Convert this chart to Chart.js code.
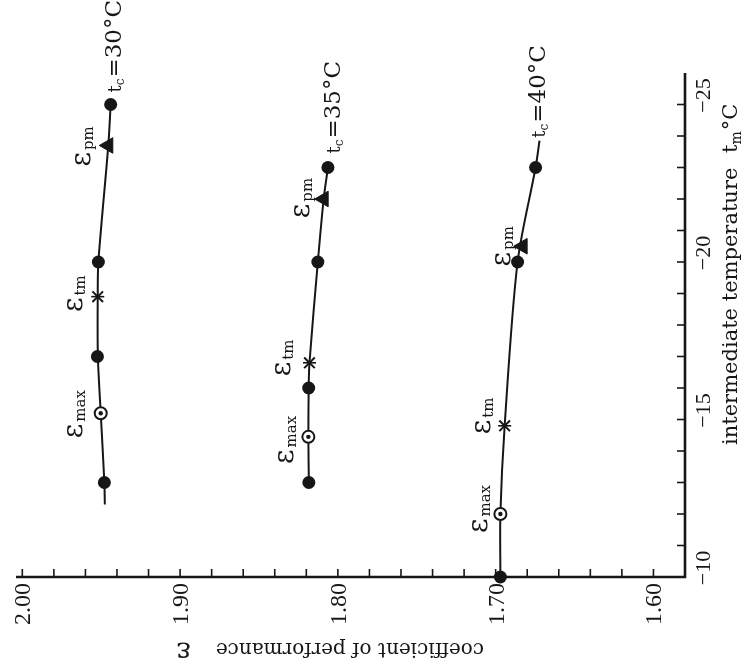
<!DOCTYPE html>
<html><head><meta charset="utf-8">
<script src="https://cdn.jsdelivr.net/npm/chart.js@4.4.1/dist/chart.umd.min.js"></script>
<style>html,body{margin:0;padding:0;background:#fff;}canvas{display:block;}</style>
</head><body>
<canvas id="c" width="744" height="666"></canvas>
<script>
// ---- data (x = coefficient of performance ε, y = intermediate temperature tm °C) ----
const seriesTc = ['30', '35', '40'];

const line30Cop = [1.9477, 1.948, 1.9503, 1.9521, 1.9522, 1.9518, 1.9455, 1.944];
const line30Tm  = [-12.3, -13, -15.2, -17, -18.9, -20, -23.7, -25];
const line35Cop = [1.8184, 1.8187, 1.8185, 1.8180, 1.8127, 1.8090, 1.8063];
const line35Tm  = [-13, -14.45, -16, -16.8, -20, -22, -23];
const line40Cop = [1.697, 1.697, 1.6943, 1.6861, 1.6747, 1.6722];
const line40Tm  = [-10, -12, -14.8, -20, -23, -23.85];

const dots30Cop = [1.948, 1.9524, 1.9518, 1.944];
const dots30Tm  = [-13, -17, -20, -25];
const dots35Cop = [1.8184, 1.8185, 1.8127, 1.8063];
const dots35Tm  = [-13, -16, -20, -23];
const dots40Cop = [1.697, 1.6861, 1.6747];
const dots40Tm  = [-10, -20, -23];

const emaxCop = [1.9503, 1.8187, 1.697];
const emaxTm  = [-15.2, -14.45, -12];
const etmCop  = [1.9522, 1.8180, 1.6943];
const etmTm   = [-18.9, -16.8, -14.8];
const epmCop  = [1.9455, 1.8090, 1.6829];
const epmTm   = [-23.7, -22, -20.5];

const copTickValues = [2.0, 1.9, 1.8, 1.7, 1.6];
const copTickLabels = ['2.00', '1.90', '1.80', '1.70', '1.60'];
const tmTickValues  = [-10, -15, -20, -25];
const tmTickLabels  = ['\u221210', '\u221215', '\u221220', '\u221225'];

// ---- styling / label placement ----
const INK = '#161616';
const SERIF = '"DejaVu Serif", serif';
const TIMES = '"Liberation Serif", serif';
const epsOffsets = {
  max: [[-19, 1], [-15, 3], [-13, -5]],
  tm:  [[-16, -3], [-19, -5], [-15, -10]],
  pm:  [[-18, 1], [-15, -1], [-13, 0]]
};
const tcOffsets = [[10, -12], [12, -14], [5, -3]];

const pts = (xs, ys) => xs.map((x, i) => ({x: x, y: ys[i]}));

function lineDs(cop, tm) {
  return {data: pts(cop, tm), showLine: true, borderColor: INK, borderWidth: 2,
          tension: 0.3, pointRadius: 0, order: 10, clip: false};
}
function markDs(cop, tm, o) {
  return Object.assign({data: pts(cop, tm), showLine: false, order: 0, clip: false,
    pointBackgroundColor: INK, pointBorderColor: INK, pointBorderWidth: 0}, o);
}

const datasets = [
  lineDs(line30Cop, line30Tm), lineDs(line35Cop, line35Tm), lineDs(line40Cop, line40Tm),
  markDs(dots30Cop, dots30Tm, {pointRadius: 6.5}),
  markDs(dots35Cop, dots35Tm, {pointRadius: 6.5}),
  markDs(dots40Cop, dots40Tm, {pointRadius: 6.5}),
  markDs(emaxCop, emaxTm, {pointRadius: 2.2}),
  markDs(emaxCop, emaxTm, {pointRadius: 6, pointBackgroundColor: '#fff', pointBorderWidth: 2, order: 1}),
  markDs(etmCop, etmTm, {pointStyle: 'crossRot', pointRadius: 7.5, pointBorderWidth: 2}),
  markDs(etmCop, etmTm, {pointStyle: 'line', pointRadius: 6.5, pointBorderWidth: 1.6}),
  markDs(epmCop, epmTm, {pointStyle: 'triangle', pointRotation: -90, pointRadius: 9, pointBorderWidth: 1})
];

function runLen(ctx, segs) {
  let w = 0;
  for (const s of segs) { ctx.font = s.font; w += (s.gap || 0) + ctx.measureText(s.text).width; }
  return w;
}
function drawRun(ctx, x, y, angle, segs) {
  ctx.save();
  ctx.translate(x, y); ctx.rotate(angle);
  ctx.textAlign = 'left'; ctx.textBaseline = 'alphabetic'; ctx.fillStyle = INK;
  let cx = 0;
  for (const s of segs) {
    ctx.font = s.font; cx += (s.gap || 0);
    ctx.fillText(s.text, cx, s.dy || 0);
    cx += ctx.measureText(s.text).width;
  }
  ctx.restore();
}

const decor = {
  id: 'decor',
  afterDraw(chart) {
    const ctx = chart.ctx, xs = chart.scales.x, ys = chart.scales.y, a = chart.chartArea;
    const ay = ys.getPixelForValue(-10), ax = xs.getPixelForValue(1.58);
    ctx.save();
    ctx.strokeStyle = INK; ctx.fillStyle = INK;
    // axes
    ctx.lineWidth = 2.6; ctx.lineCap = 'butt';
    ctx.beginPath(); ctx.moveTo(a.left, ay); ctx.lineTo(ax, ay); ctx.lineTo(ax, a.top); ctx.stroke();
    // minor ticks
    ctx.lineWidth = 1.6;
    for (let k = 0; k <= 20; k++) {
      const px = xs.getPixelForValue(1.60 + 0.02 * k);
      ctx.beginPath(); ctx.moveTo(px, ay); ctx.lineTo(px, ay - 8); ctx.stroke();
    }
    for (let t = -11; t >= -25; t--) {
      const py = ys.getPixelForValue(t);
      ctx.beginPath(); ctx.moveTo(ax, py); ctx.lineTo(ax - 8, py); ctx.stroke();
    }
    // tick labels
    copTickValues.forEach((v, i) => {
      const px = xs.getPixelForValue(v);
      ctx.save(); ctx.translate(px + 8, ay + 6); ctx.rotate(-Math.PI / 2);
      ctx.font = '24px ' + TIMES; ctx.textAlign = 'right'; ctx.textBaseline = 'alphabetic';
      ctx.fillText(copTickLabels[i], 0, 0); ctx.restore();
    });
    tmTickValues.forEach((v, i) => {
      const py = ys.getPixelForValue(v);
      ctx.save(); ctx.translate(ax + 25, py - 9); ctx.rotate(-Math.PI / 2);
      ctx.font = '22px ' + TIMES; ctx.textAlign = 'center'; ctx.textBaseline = 'alphabetic';
      ctx.fillText(tmTickLabels[i], 0, 0); ctx.restore();
    });
    // axis titles
    drawRun(ctx, ax + 52, ay - 132, -Math.PI / 2, [{text: 'intermediate temperature', font: '21px ' + SERIF}]);
    drawRun(ctx, ax + 52, ay - 424, -Math.PI / 2, [
      {text: 't', font: '21px ' + SERIF},
      {text: 'm', font: '14px ' + SERIF, dy: 4},
      {text: '\u00b0C', font: '21px ' + SERIF, gap: 1}
    ]);
    drawRun(ctx, 484, ay + 66, Math.PI, [{text: 'coefficient of performance', font: '20px ' + SERIF}]);
    drawRun(ctx, 191, ay + 66, Math.PI, [{text: '\u03b5', font: '28px ' + SERIF}]);
    // ε labels
    const groups = [['max', emaxCop, emaxTm], ['tm', etmCop, etmTm], ['pm', epmCop, epmTm]];
    groups.forEach(([sub, cop, tm]) => {
      cop.forEach((c, i) => {
        const px = xs.getPixelForValue(c), py = ys.getPixelForValue(tm[i]);
        const segs = [{text: '\u03b5', font: '28px ' + SERIF}, {text: sub, font: '15px ' + SERIF, dy: 3, gap: 2}];
        const L = runLen(ctx, segs);
        const [dx, dy] = epsOffsets[sub][i];
        drawRun(ctx, px + dx, py + dy + L / 2, -Math.PI / 2, segs);
      });
    });
    // tc labels at the upper end of each curve
    const ends = [[line30Cop, line30Tm], [line35Cop, line35Tm], [line40Cop, line40Tm]];
    ends.forEach(([cop, tm], i) => {
      const n = cop.length - 1;
      const px = xs.getPixelForValue(cop[n]), py = ys.getPixelForValue(tm[n]);
      drawRun(ctx, px + tcOffsets[i][0], py + tcOffsets[i][1], -Math.PI / 2, [
        {text: 't', font: '18px ' + SERIF},
        {text: 'c', font: '12px ' + SERIF, dy: 3},
        {text: '=' + seriesTc[i] + '\u00b0C', font: '23px ' + SERIF, gap: 1}
      ]);
    });
    ctx.restore();
  }
};

new Chart(document.getElementById('c'), {
  type: 'scatter',
  data: {datasets: datasets},
  options: {
    responsive: false, animation: false, events: [],
    layout: {padding: {left: 16, right: 59, top: 73, bottom: 89}},
    plugins: {legend: {display: false}, tooltip: {enabled: false}, title: {display: false}},
    scales: {
      x: {type: 'linear', min: 1.58, max: 2.004, reverse: true, display: false},
      y: {type: 'linear', min: -26, max: -10, reverse: true, display: false}
    }
  },
  plugins: [decor]
});
</script>
</body></html>
